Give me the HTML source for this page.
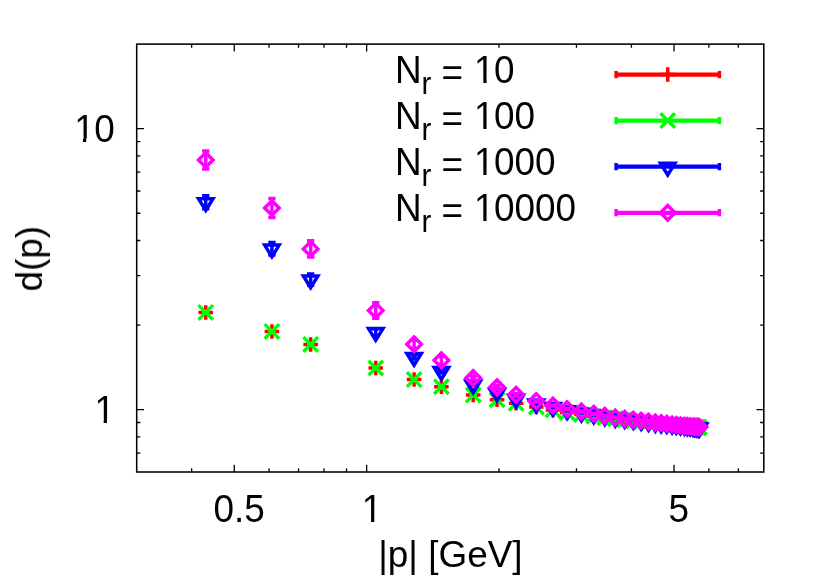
<!DOCTYPE html>
<html><head><meta charset="utf-8"><title>d(p) vs |p|</title>
<style>html,body{margin:0;padding:0;background:#fff;}body{width:830px;height:581px;overflow:hidden;font-family:"Liberation Sans",sans-serif;}svg{display:block;}</style>
</head><body>
<svg width="830" height="581" viewBox="0 0 830 581">
<rect width="830" height="581" fill="#fff"/>
<path d="M191.64 472v-3.65M191.64 44.1v3.65M234.26 472v-7.3M234.26 44.1v7.3M269.08 472v-3.65M269.08 44.1v3.65M298.53 472v-3.65M298.53 44.1v3.65M324.03 472v-3.65M324.03 44.1v3.65M346.52 472v-3.65M346.52 44.1v3.65M366.65 472v-7.3M366.65 44.1v7.3M499.03 472v-3.65M499.03 44.1v3.65M576.47 472v-3.65M576.47 44.1v3.65M631.42 472v-3.65M631.42 44.1v3.65M674.03 472v-7.3M674.03 44.1v7.3M708.86 472v-3.65M708.86 44.1v3.65M738.3 472v-3.65M738.3 44.1v3.65M136.7 453.19h3.65M763.8 453.19h-3.65M136.7 436.89h3.65M763.8 436.89h-3.65M136.7 422.52h3.65M763.8 422.52h-3.65M136.7 409.66h7.3M763.8 409.66h-7.3M136.7 325.08h3.65M763.8 325.08h-3.65M136.7 275.6h3.65M763.8 275.6h-3.65M136.7 240.5h3.65M763.8 240.5h-3.65M136.7 213.27h3.65M763.8 213.27h-3.65M136.7 191.02h3.65M763.8 191.02h-3.65M136.7 172.21h3.65M763.8 172.21h-3.65M136.7 155.91h3.65M763.8 155.91h-3.65M136.7 141.54h3.65M763.8 141.54h-3.65M136.7 128.68h7.3M763.8 128.68h-7.3" stroke="#000" stroke-width="1.3" fill="none"/>
<rect x="136.7" y="44.1" width="627.1" height="427.9" fill="none" stroke="#000" stroke-width="1.55"/>
<path d="M616.1 74.72H719.4" stroke="#ff0000" stroke-width="4.2" fill="none"/>
<path d="M616.1 70.97V78.23M719.4 70.97V78.23" stroke="#ff0000" stroke-width="3.46" fill="none"/>
<path d="M660.49 74.6H675.01M667.75 67.34V81.86" stroke="#ff0000" stroke-width="3.46" fill="none" stroke-miterlimit="10"/>
<path d="M205.74 312.1V312.7M202.11 312.1H209.37M202.11 312.7H209.37M271.93 331.1V331.7M268.3 331.1H275.56M268.3 331.7H275.56M310.65 344.1V344.7M307.02 344.1H314.28M307.02 344.7H314.28M375.75 367.7V368.3M372.12 367.7H379.38M372.12 368.3H379.38M414.11 379.3V379.9M410.48 379.3H417.74M410.48 379.9H417.74M441.4 386.4V387M437.77 386.4H445.03M437.77 387H445.03M473.21 394.6V395.2M469.58 394.6H476.84M469.58 395.2H476.84M497.04 399.4V400M493.41 399.4H500.67M493.41 400H500.67M516.09 403V403.6M512.46 403H519.72M512.46 403.6H519.72M536.3 406.6V407.2M532.67 406.6H539.93M532.67 407.2H539.93M552.97 409.7V410.3M549.34 409.7H556.6M549.34 410.3H556.6M567.16 412.3V412.9M563.53 412.3H570.79M563.53 412.9H570.79M581.4 414.3V414.9M577.77 414.3H585.03M577.77 414.9H585.03M593.78 415.9V416.5M590.15 415.9H597.41M590.15 416.5H597.41M604.75 417.2V417.8M601.12 417.2H608.38M601.12 417.8H608.38M615.26 418.5V419.1M611.63 418.5H618.89M611.63 419.1H618.89M624.73 419.52V420.12M621.1 419.52H628.36M621.1 420.12H628.36M633.35 420.47V421.07M629.72 420.47H636.98M629.72 421.07H636.98M641.25 421.35V421.95M637.62 421.35H644.88M637.62 421.95H644.88M648.55 422.15V422.75M644.92 422.15H652.18M644.92 422.75H652.18M655.33 422.9V423.5M651.7 422.9H658.96M651.7 423.5H658.96M661.24 423.48V424.08M657.61 423.48H664.87M657.61 424.08H664.87M666.81 424.02V424.62M663.18 424.02H670.44M663.18 424.62H670.44M672.07 424.54V425.14M668.44 424.54H675.7M668.44 425.14H675.7M676.37 424.95V425.55M672.74 424.95H680M672.74 425.55H680M680.48 425.36V425.96M676.85 425.36H684.11M676.85 425.96H684.11M684.42 425.74V426.34M680.79 425.74H688.05M680.79 426.34H688.05M687.34 426.02V426.62M683.71 426.02H690.97M683.71 426.62H690.97M690.17 426.3V426.9M686.54 426.3H693.8M686.54 426.9H693.8M692.92 426.57V427.17M689.29 426.57H696.55M689.29 427.17H696.55M694.61 426.73V427.33M690.98 426.73H698.24M690.98 427.33H698.24M696.27 426.89V427.49M692.64 426.89H699.9M692.64 427.49H699.9M697.9 427.05V427.65M694.27 427.05H701.53M694.27 427.65H701.53M698.45 427.11V427.71M694.82 427.11H702.08M694.82 427.71H702.08M699 427.16V427.76M695.37 427.16H702.63M695.37 427.76H702.63M699.54 427.2V427.8M695.91 427.2H703.17M695.91 427.8H703.17" stroke="#ff0000" stroke-width="3.46" fill="none"/>
<path d="M198.48 312.4H213M205.74 305.14V319.66M264.67 331.4H279.19M271.93 324.14V338.66M303.39 344.4H317.91M310.65 337.14V351.66M368.49 368H383.01M375.75 360.74V375.26M406.85 379.6H421.37M414.11 372.34V386.86M434.14 386.7H448.66M441.4 379.44V393.96M465.95 394.9H480.47M473.21 387.64V402.16M489.78 399.7H504.3M497.04 392.44V406.96M508.83 403.3H523.35M516.09 396.04V410.56M529.04 406.9H543.56M536.3 399.64V414.16M545.71 410H560.23M552.97 402.74V417.26M559.9 412.6H574.42M567.16 405.34V419.86M574.14 414.6H588.66M581.4 407.34V421.86M586.52 416.2H601.04M593.78 408.94V423.46M597.49 417.5H612.01M604.75 410.24V424.76M608 418.8H622.52M615.26 411.54V426.06M617.47 419.82H631.99M624.73 412.56V427.08M626.09 420.77H640.61M633.35 413.51V428.03M633.99 421.65H648.51M641.25 414.39V428.91M641.29 422.45H655.81M648.55 415.19V429.71M648.07 423.2H662.59M655.33 415.94V430.46M653.98 423.78H668.5M661.24 416.52V431.04M659.55 424.32H674.07M666.81 417.06V431.58M664.81 424.84H679.33M672.07 417.58V432.1M669.11 425.25H683.63M676.37 417.99V432.51M673.22 425.66H687.74M680.48 418.4V432.92M677.16 426.04H691.68M684.42 418.78V433.3M680.08 426.32H694.6M687.34 419.06V433.58M682.91 426.6H697.43M690.17 419.34V433.86M685.66 426.87H700.18M692.92 419.61V434.13M687.35 427.03H701.87M694.61 419.77V434.29M689.01 427.19H703.53M696.27 419.93V434.45M690.64 427.35H705.16M697.9 420.09V434.61M691.19 427.41H705.71M698.45 420.15V434.67M691.74 427.46H706.26M699 420.2V434.72M692.28 427.5H706.8M699.54 420.24V434.76" stroke="#ff0000" stroke-width="3.46" fill="none" stroke-miterlimit="10"/>
<path d="M616.1 120.72H719.4" stroke="#00ff00" stroke-width="4.2" fill="none"/>
<path d="M616.1 116.97V124.23M719.4 116.97V124.23" stroke="#00ff00" stroke-width="3.46" fill="none"/>
<path d="M660.49 113.34L675.01 127.86M660.49 127.86L675.01 113.34" stroke="#00ff00" stroke-width="3.46" fill="none" stroke-miterlimit="10"/>
<path d="M205.74 312.1V312.7M202.11 312.1H209.37M202.11 312.7H209.37M271.93 331.1V331.7M268.3 331.1H275.56M268.3 331.7H275.56M310.65 344.1V344.7M307.02 344.1H314.28M307.02 344.7H314.28M375.75 367.7V368.3M372.12 367.7H379.38M372.12 368.3H379.38M414.11 379.3V379.9M410.48 379.3H417.74M410.48 379.9H417.74M441.4 386.4V387M437.77 386.4H445.03M437.77 387H445.03M473.21 394.6V395.2M469.58 394.6H476.84M469.58 395.2H476.84M497.04 399.4V400M493.41 399.4H500.67M493.41 400H500.67M516.09 403V403.6M512.46 403H519.72M512.46 403.6H519.72M536.3 406.6V407.2M532.67 406.6H539.93M532.67 407.2H539.93M552.97 409.7V410.3M549.34 409.7H556.6M549.34 410.3H556.6M567.16 412.3V412.9M563.53 412.3H570.79M563.53 412.9H570.79M581.4 414.3V414.9M577.77 414.3H585.03M577.77 414.9H585.03M593.78 415.9V416.5M590.15 415.9H597.41M590.15 416.5H597.41M604.75 417.2V417.8M601.12 417.2H608.38M601.12 417.8H608.38M615.26 418.5V419.1M611.63 418.5H618.89M611.63 419.1H618.89M624.73 419.52V420.12M621.1 419.52H628.36M621.1 420.12H628.36M633.35 420.47V421.07M629.72 420.47H636.98M629.72 421.07H636.98M641.25 421.35V421.95M637.62 421.35H644.88M637.62 421.95H644.88M648.55 422.15V422.75M644.92 422.15H652.18M644.92 422.75H652.18M655.33 422.9V423.5M651.7 422.9H658.96M651.7 423.5H658.96M661.24 423.48V424.08M657.61 423.48H664.87M657.61 424.08H664.87M666.81 424.02V424.62M663.18 424.02H670.44M663.18 424.62H670.44M672.07 424.54V425.14M668.44 424.54H675.7M668.44 425.14H675.7M676.37 424.95V425.55M672.74 424.95H680M672.74 425.55H680M680.48 425.36V425.96M676.85 425.36H684.11M676.85 425.96H684.11M684.42 425.74V426.34M680.79 425.74H688.05M680.79 426.34H688.05M687.34 426.02V426.62M683.71 426.02H690.97M683.71 426.62H690.97M690.17 426.3V426.9M686.54 426.3H693.8M686.54 426.9H693.8M692.92 426.57V427.17M689.29 426.57H696.55M689.29 427.17H696.55M694.61 426.73V427.33M690.98 426.73H698.24M690.98 427.33H698.24M696.27 426.89V427.49M692.64 426.89H699.9M692.64 427.49H699.9M697.9 427.05V427.65M694.27 427.05H701.53M694.27 427.65H701.53M698.45 427.11V427.71M694.82 427.11H702.08M694.82 427.71H702.08M699 427.16V427.76M695.37 427.16H702.63M695.37 427.76H702.63M699.54 427.2V427.8M695.91 427.2H703.17M695.91 427.8H703.17" stroke="#00ff00" stroke-width="3.46" fill="none"/>
<path d="M198.48 305.14L213 319.66M198.48 319.66L213 305.14M264.67 324.14L279.19 338.66M264.67 338.66L279.19 324.14M303.39 337.14L317.91 351.66M303.39 351.66L317.91 337.14M368.49 360.74L383.01 375.26M368.49 375.26L383.01 360.74M406.85 372.34L421.37 386.86M406.85 386.86L421.37 372.34M434.14 379.44L448.66 393.96M434.14 393.96L448.66 379.44M465.95 387.64L480.47 402.16M465.95 402.16L480.47 387.64M489.78 392.44L504.3 406.96M489.78 406.96L504.3 392.44M508.83 396.04L523.35 410.56M508.83 410.56L523.35 396.04M529.04 399.64L543.56 414.16M529.04 414.16L543.56 399.64M545.71 402.74L560.23 417.26M545.71 417.26L560.23 402.74M559.9 405.34L574.42 419.86M559.9 419.86L574.42 405.34M574.14 407.34L588.66 421.86M574.14 421.86L588.66 407.34M586.52 408.94L601.04 423.46M586.52 423.46L601.04 408.94M597.49 410.24L612.01 424.76M597.49 424.76L612.01 410.24M608 411.54L622.52 426.06M608 426.06L622.52 411.54M617.47 412.56L631.99 427.08M617.47 427.08L631.99 412.56M626.09 413.51L640.61 428.03M626.09 428.03L640.61 413.51M633.99 414.39L648.51 428.91M633.99 428.91L648.51 414.39M641.29 415.19L655.81 429.71M641.29 429.71L655.81 415.19M648.07 415.94L662.59 430.46M648.07 430.46L662.59 415.94M653.98 416.52L668.5 431.04M653.98 431.04L668.5 416.52M659.55 417.06L674.07 431.58M659.55 431.58L674.07 417.06M664.81 417.58L679.33 432.1M664.81 432.1L679.33 417.58M669.11 417.99L683.63 432.51M669.11 432.51L683.63 417.99M673.22 418.4L687.74 432.92M673.22 432.92L687.74 418.4M677.16 418.78L691.68 433.3M677.16 433.3L691.68 418.78M680.08 419.06L694.6 433.58M680.08 433.58L694.6 419.06M682.91 419.34L697.43 433.86M682.91 433.86L697.43 419.34M685.66 419.61L700.18 434.13M685.66 434.13L700.18 419.61M687.35 419.77L701.87 434.29M687.35 434.29L701.87 419.77M689.01 419.93L703.53 434.45M689.01 434.45L703.53 419.93M690.64 420.09L705.16 434.61M690.64 434.61L705.16 420.09M691.19 420.15L705.71 434.67M691.19 434.67L705.71 420.15M691.74 420.2L706.26 434.72M691.74 434.72L706.26 420.2M692.28 420.24L706.8 434.76M692.28 434.76L706.8 420.24" stroke="#00ff00" stroke-width="3.46" fill="none" stroke-miterlimit="10"/>
<path d="M616.1 166.72H719.4" stroke="#0000ff" stroke-width="4.2" fill="none"/>
<path d="M616.1 162.97V170.23M719.4 162.97V170.23" stroke="#0000ff" stroke-width="3.46" fill="none"/>
<path d="M667.75 174.98L660.49 163.22H675.01Z" stroke="#0000ff" stroke-width="3.46" fill="none" stroke-miterlimit="10"/>
<path d="M205.74 195.8V208.8M202.11 195.8H209.37M202.11 208.8H209.37M271.93 242.4V255M268.3 242.4H275.56M268.3 255H275.56M310.65 274V285.2M307.02 274H314.28M307.02 285.2H314.28M375.75 328.8V335.6M372.12 328.8H379.38M372.12 335.6H379.38M414.11 355.1V359.1M410.48 355.1H417.74M410.48 359.1H417.74M441.4 369.4V372.8M437.77 369.4H445.03M437.77 372.8H445.03M473.21 383.7V385.7M469.58 383.7H476.84M469.58 385.7H476.84M497.04 392V393.6M493.41 392H500.67M493.41 393.6H500.67M516.09 398.3V399.5M512.46 398.3H519.72M512.46 399.5H519.72M536.3 403.2V404.2M532.67 403.2H539.93M532.67 404.2H539.93M552.97 406.8V407.6M549.34 406.8H556.6M549.34 407.6H556.6M567.16 409.9V410.7M563.53 409.9H570.79M563.53 410.7H570.79M581.4 412.45V413.05M577.77 412.45H585.03M577.77 413.05H585.03M593.78 414.3V414.9M590.15 414.3H597.41M590.15 414.9H597.41M604.75 416.2V416.8M601.12 416.2H608.38M601.12 416.8H608.38M615.26 417.7V418.3M611.63 417.7H618.89M611.63 418.3H618.89M624.73 418.9V419.5M621.1 418.9H628.36M621.1 419.5H628.36M633.35 419.9V420.5M629.72 419.9H636.98M629.72 420.5H636.98M641.25 420.9V421.5M637.62 420.9H644.88M637.62 421.5H644.88M648.55 421.8V422.4M644.92 421.8H652.18M644.92 422.4H652.18M655.33 422.7V423.3M651.7 422.7H658.96M651.7 423.3H658.96M661.24 423.3V423.9M657.61 423.3H664.87M657.61 423.9H664.87M666.81 423.87V424.47M663.18 423.87H670.44M663.18 424.47H670.44M672.07 424.42V425.02M668.44 424.42H675.7M668.44 425.02H675.7M676.37 424.88V425.48M672.74 424.88H680M672.74 425.48H680M680.48 425.31V425.91M676.85 425.31H684.11M676.85 425.91H684.11M684.42 425.72V426.32M680.79 425.72H688.05M680.79 426.32H688.05M687.34 426.03V426.63M683.71 426.03H690.97M683.71 426.63H690.97M690.17 426.33V426.93M686.54 426.33H693.8M686.54 426.93H693.8M692.92 426.62V427.22M689.29 426.62H696.55M689.29 427.22H696.55M694.61 426.8V427.4M690.98 426.8H698.24M690.98 427.4H698.24M696.27 426.97V427.57M692.64 426.97H699.9M692.64 427.57H699.9M697.9 427.14V427.74M694.27 427.14H701.53M694.27 427.74H701.53M698.45 427.2V427.8M694.82 427.2H702.08M694.82 427.8H702.08M699 427.26V427.86M695.37 427.26H702.63M695.37 427.86H702.63M699.54 427.3V427.9M695.91 427.3H703.17M695.91 427.9H703.17" stroke="#0000ff" stroke-width="3.46" fill="none"/>
<path d="M205.74 210.43L198.48 198.67H213ZM271.93 256.83L264.67 245.07H279.19ZM310.65 287.73L303.39 275.97H317.91ZM375.75 340.33L368.49 328.57H383.01ZM414.11 365.23L406.85 353.47H421.37ZM441.4 379.23L434.14 367.47H448.66ZM473.21 392.83L465.95 381.07H480.47ZM497.04 400.93L489.78 389.17H504.3ZM516.09 407.03L508.83 395.27H523.35ZM536.3 411.83L529.04 400.07H543.56ZM552.97 415.33L545.71 403.57H560.23ZM567.16 418.43L559.9 406.67H574.42ZM581.4 420.88L574.14 409.12H588.66ZM593.78 422.73L586.52 410.97H601.04ZM604.75 424.63L597.49 412.87H612.01ZM615.26 426.13L608 414.37H622.52ZM624.73 427.33L617.47 415.57H631.99ZM633.35 428.33L626.09 416.57H640.61ZM641.25 429.33L633.99 417.57H648.51ZM648.55 430.23L641.29 418.47H655.81ZM655.33 431.13L648.07 419.37H662.59ZM661.24 431.73L653.98 419.97H668.5ZM666.81 432.3L659.55 420.54H674.07ZM672.07 432.85L664.81 421.09H679.33ZM676.37 433.31L669.11 421.55H683.63ZM680.48 433.74L673.22 421.98H687.74ZM684.42 434.15L677.16 422.39H691.68ZM687.34 434.46L680.08 422.7H694.6ZM690.17 434.76L682.91 423H697.43ZM692.92 435.05L685.66 423.29H700.18ZM694.61 435.23L687.35 423.47H701.87ZM696.27 435.4L689.01 423.64H703.53ZM697.9 435.57L690.64 423.81H705.16ZM698.45 435.63L691.19 423.87H705.71ZM699 435.69L691.74 423.93H706.26ZM699.54 435.73L692.28 423.97H706.8Z" stroke="#0000ff" stroke-width="3.46" fill="none" stroke-miterlimit="10"/>
<path d="M616.1 212.82H719.4" stroke="#ff00ff" stroke-width="4.2" fill="none"/>
<path d="M616.1 209.07V216.33M719.4 209.07V216.33" stroke="#ff00ff" stroke-width="3.46" fill="none"/>
<path d="M667.75 205.44L660.49 212.7L667.75 219.96L675.01 212.7Z" stroke="#ff00ff" stroke-width="3.46" fill="none" stroke-miterlimit="10"/>
<path d="M205.74 150.9V169.1M202.11 150.9H209.37M202.11 169.1H209.37M271.93 198.4V217.6M268.3 198.4H275.56M268.3 217.6H275.56M310.65 240.7V257.1M307.02 240.7H314.28M307.02 257.1H314.28M375.75 302.7V318.3M372.12 302.7H379.38M372.12 318.3H379.38M414.11 340V348.6M410.48 340H417.74M410.48 348.6H417.74M441.4 356V364.6M437.77 356H445.03M437.77 364.6H445.03M473.21 375.9V380.1M469.58 375.9H476.84M469.58 380.1H476.84M497.04 385.6V389M493.41 385.6H500.67M493.41 389H500.67M516.09 393.5V395.9M512.46 393.5H519.72M512.46 395.9H519.72M536.3 400.3V401.9M532.67 400.3H539.93M532.67 401.9H539.93M552.97 404.9V406.1M549.34 404.9H556.6M549.34 406.1H556.6M567.16 408.6V409.6M563.53 408.6H570.79M563.53 409.6H570.79M581.4 411.1V411.9M577.77 411.1H585.03M577.77 411.9H585.03M593.78 413.4V414.2M590.15 413.4H597.41M590.15 414.2H597.41M604.75 415.35V416.15M601.12 415.35H608.38M601.12 416.15H608.38M615.26 417.1V417.9M611.63 417.1H618.89M611.63 417.9H618.89M624.73 418.3V419.1M621.1 418.3H628.36M621.1 419.1H628.36M633.35 419.3V420.1M629.72 419.3H636.98M629.72 420.1H636.98M641.25 420.3V421.1M637.62 420.3H644.88M637.62 421.1H644.88M648.55 421.2V422M644.92 421.2H652.18M644.92 422H652.18M655.33 422.1V422.9M651.7 422.1H658.96M651.7 422.9H658.96M661.24 422.7V423.5M657.61 422.7H664.87M657.61 423.5H664.87M666.81 423.4V424.2M663.18 423.4H670.44M663.18 424.2H670.44M672.07 424V424.8M668.44 424H675.7M668.44 424.8H675.7M676.37 424.5V425.3M672.74 424.5H680M672.74 425.3H680M680.48 425V425.8M676.85 425H684.11M676.85 425.8H684.11M684.42 425.36V426.16M680.79 425.36H688.05M680.79 426.16H688.05M687.34 425.62V426.42M683.71 425.62H690.97M683.71 426.42H690.97M690.17 425.87V426.67M686.54 425.87H693.8M686.54 426.67H693.8M692.92 426.12V426.92M689.29 426.12H696.55M689.29 426.92H696.55M694.61 426.27V427.07M690.98 426.27H698.24M690.98 427.07H698.24M696.27 426.42V427.22M692.64 426.42H699.9M692.64 427.22H699.9M697.9 426.57V427.37M694.27 426.57H701.53M694.27 427.37H701.53M698.45 426.62V427.42M694.82 426.62H702.08M694.82 427.42H702.08M699 426.66V427.46M695.37 426.66H702.63M695.37 427.46H702.63M699.54 426.7V427.5M695.91 426.7H703.17M695.91 427.5H703.17" stroke="#ff00ff" stroke-width="3.46" fill="none"/>
<path d="M205.74 152.74L198.48 160L205.74 167.26L213 160ZM271.93 200.74L264.67 208L271.93 215.26L279.19 208ZM310.65 241.64L303.39 248.9L310.65 256.16L317.91 248.9ZM375.75 303.24L368.49 310.5L375.75 317.76L383.01 310.5ZM414.11 337.04L406.85 344.3L414.11 351.56L421.37 344.3ZM441.4 353.04L434.14 360.3L441.4 367.56L448.66 360.3ZM473.21 370.74L465.95 378L473.21 385.26L480.47 378ZM497.04 380.04L489.78 387.3L497.04 394.56L504.3 387.3ZM516.09 387.44L508.83 394.7L516.09 401.96L523.35 394.7ZM536.3 393.84L529.04 401.1L536.3 408.36L543.56 401.1ZM552.97 398.24L545.71 405.5L552.97 412.76L560.23 405.5ZM567.16 401.84L559.9 409.1L567.16 416.36L574.42 409.1ZM581.4 404.24L574.14 411.5L581.4 418.76L588.66 411.5ZM593.78 406.54L586.52 413.8L593.78 421.06L601.04 413.8ZM604.75 408.49L597.49 415.75L604.75 423.01L612.01 415.75ZM615.26 410.24L608 417.5L615.26 424.76L622.52 417.5ZM624.73 411.44L617.47 418.7L624.73 425.96L631.99 418.7ZM633.35 412.44L626.09 419.7L633.35 426.96L640.61 419.7ZM641.25 413.44L633.99 420.7L641.25 427.96L648.51 420.7ZM648.55 414.34L641.29 421.6L648.55 428.86L655.81 421.6ZM655.33 415.24L648.07 422.5L655.33 429.76L662.59 422.5ZM661.24 415.84L653.98 423.1L661.24 430.36L668.5 423.1ZM666.81 416.54L659.55 423.8L666.81 431.06L674.07 423.8ZM672.07 417.14L664.81 424.4L672.07 431.66L679.33 424.4ZM676.37 417.64L669.11 424.9L676.37 432.16L683.63 424.9ZM680.48 418.14L673.22 425.4L680.48 432.66L687.74 425.4ZM684.42 418.5L677.16 425.76L684.42 433.02L691.68 425.76ZM687.34 418.76L680.08 426.02L687.34 433.28L694.6 426.02ZM690.17 419.01L682.91 426.27L690.17 433.53L697.43 426.27ZM692.92 419.26L685.66 426.52L692.92 433.78L700.18 426.52ZM694.61 419.41L687.35 426.67L694.61 433.93L701.87 426.67ZM696.27 419.56L689.01 426.82L696.27 434.08L703.53 426.82ZM697.9 419.71L690.64 426.97L697.9 434.23L705.16 426.97ZM698.45 419.76L691.19 427.02L698.45 434.28L705.71 427.02ZM699 419.8L691.74 427.06L699 434.32L706.26 427.06ZM699.54 419.84L692.28 427.1L699.54 434.36L706.8 427.1Z" stroke="#ff00ff" stroke-width="3.46" fill="none" stroke-miterlimit="10"/>
<g opacity="0.998">
<text transform="translate(394.9,83.3) scale(1,1.04)" font-family="Liberation Sans, sans-serif" font-size="36.9" fill="#000">N<tspan dy="10.19" font-size="29.52">r</tspan><tspan dy="-7.69"> = </tspan><tspan dy="-2.5" dx="0.6">1</tspan><tspan dx="-0.6">0</tspan></text>
<text transform="translate(394.9,129.3) scale(1,1.04)" font-family="Liberation Sans, sans-serif" font-size="36.9" fill="#000">N<tspan dy="10.19" font-size="29.52">r</tspan><tspan dy="-7.69"> = </tspan><tspan dy="-2.5" dx="0.6">1</tspan><tspan dx="-0.6">00</tspan></text>
<text transform="translate(394.9,175.3) scale(1,1.04)" font-family="Liberation Sans, sans-serif" font-size="36.9" fill="#000">N<tspan dy="10.19" font-size="29.52">r</tspan><tspan dy="-7.69"> = </tspan><tspan dy="-2.5" dx="0.6">1</tspan><tspan dx="-0.6">000</tspan></text>
<text transform="translate(394.9,221.4) scale(1,1.04)" font-family="Liberation Sans, sans-serif" font-size="36.9" fill="#000">N<tspan dy="10.19" font-size="29.52">r</tspan><tspan dy="-7.69"> = </tspan><tspan dy="-2.5" dx="0.6">1</tspan><tspan dx="-0.6">0000</tspan></text>
<text transform="translate(114.1,141.98) scale(1,1.04)" text-anchor="end" font-family="Liberation Sans, sans-serif" font-size="36.9" fill="#000"><tspan dx="0.6">1</tspan><tspan dx="-0.6">0</tspan></text>
<text transform="translate(114.9,422.56) scale(1,1.04)" text-anchor="end" font-family="Liberation Sans, sans-serif" font-size="36.9" fill="#000">1</text>
<text transform="translate(239.06,522) scale(1,1.04)" text-anchor="middle" font-family="Liberation Sans, sans-serif" font-size="36.9" fill="#000">0.5</text>
<text transform="translate(372.05,522) scale(1,1.04)" text-anchor="middle" font-family="Liberation Sans, sans-serif" font-size="36.9" fill="#000">1</text>
<text transform="translate(678.83,522) scale(1,1.04)" text-anchor="middle" font-family="Liberation Sans, sans-serif" font-size="36.9" fill="#000">5</text>
<text x="450.4" y="567.4" text-anchor="middle" font-family="Liberation Sans, sans-serif" font-size="36.9" fill="#000">|p| [GeV]</text>
<text transform="translate(42,258.7) rotate(-90)" text-anchor="middle" font-family="Liberation Sans, sans-serif" font-size="36.9" fill="#000">d(p)</text>
<rect x="474.84" y="79.73" width="8.47" height="4.27" fill="#fff"/>
<rect x="486.57" y="79.73" width="8.18" height="4.27" fill="#fff"/>
<rect x="474.84" y="125.73" width="8.47" height="4.27" fill="#fff"/>
<rect x="486.57" y="125.73" width="8.18" height="4.27" fill="#fff"/>
<rect x="474.84" y="171.73" width="8.47" height="4.27" fill="#fff"/>
<rect x="486.57" y="171.73" width="8.18" height="4.27" fill="#fff"/>
<rect x="474.84" y="217.83" width="8.47" height="4.27" fill="#fff"/>
<rect x="486.57" y="217.83" width="8.18" height="4.27" fill="#fff"/>
<rect x="74.47" y="138.42" width="8.47" height="4.27" fill="#fff"/>
<rect x="86.19" y="138.42" width="8.18" height="4.27" fill="#fff"/>
<rect x="95.19" y="419" width="8.47" height="4.27" fill="#fff"/>
<rect x="106.92" y="419" width="8.18" height="4.27" fill="#fff"/>
<rect x="362.6" y="518.43" width="8.47" height="4.27" fill="#fff"/>
<rect x="374.32" y="518.43" width="8.18" height="4.27" fill="#fff"/>
</g>
</svg>
</body></html>
